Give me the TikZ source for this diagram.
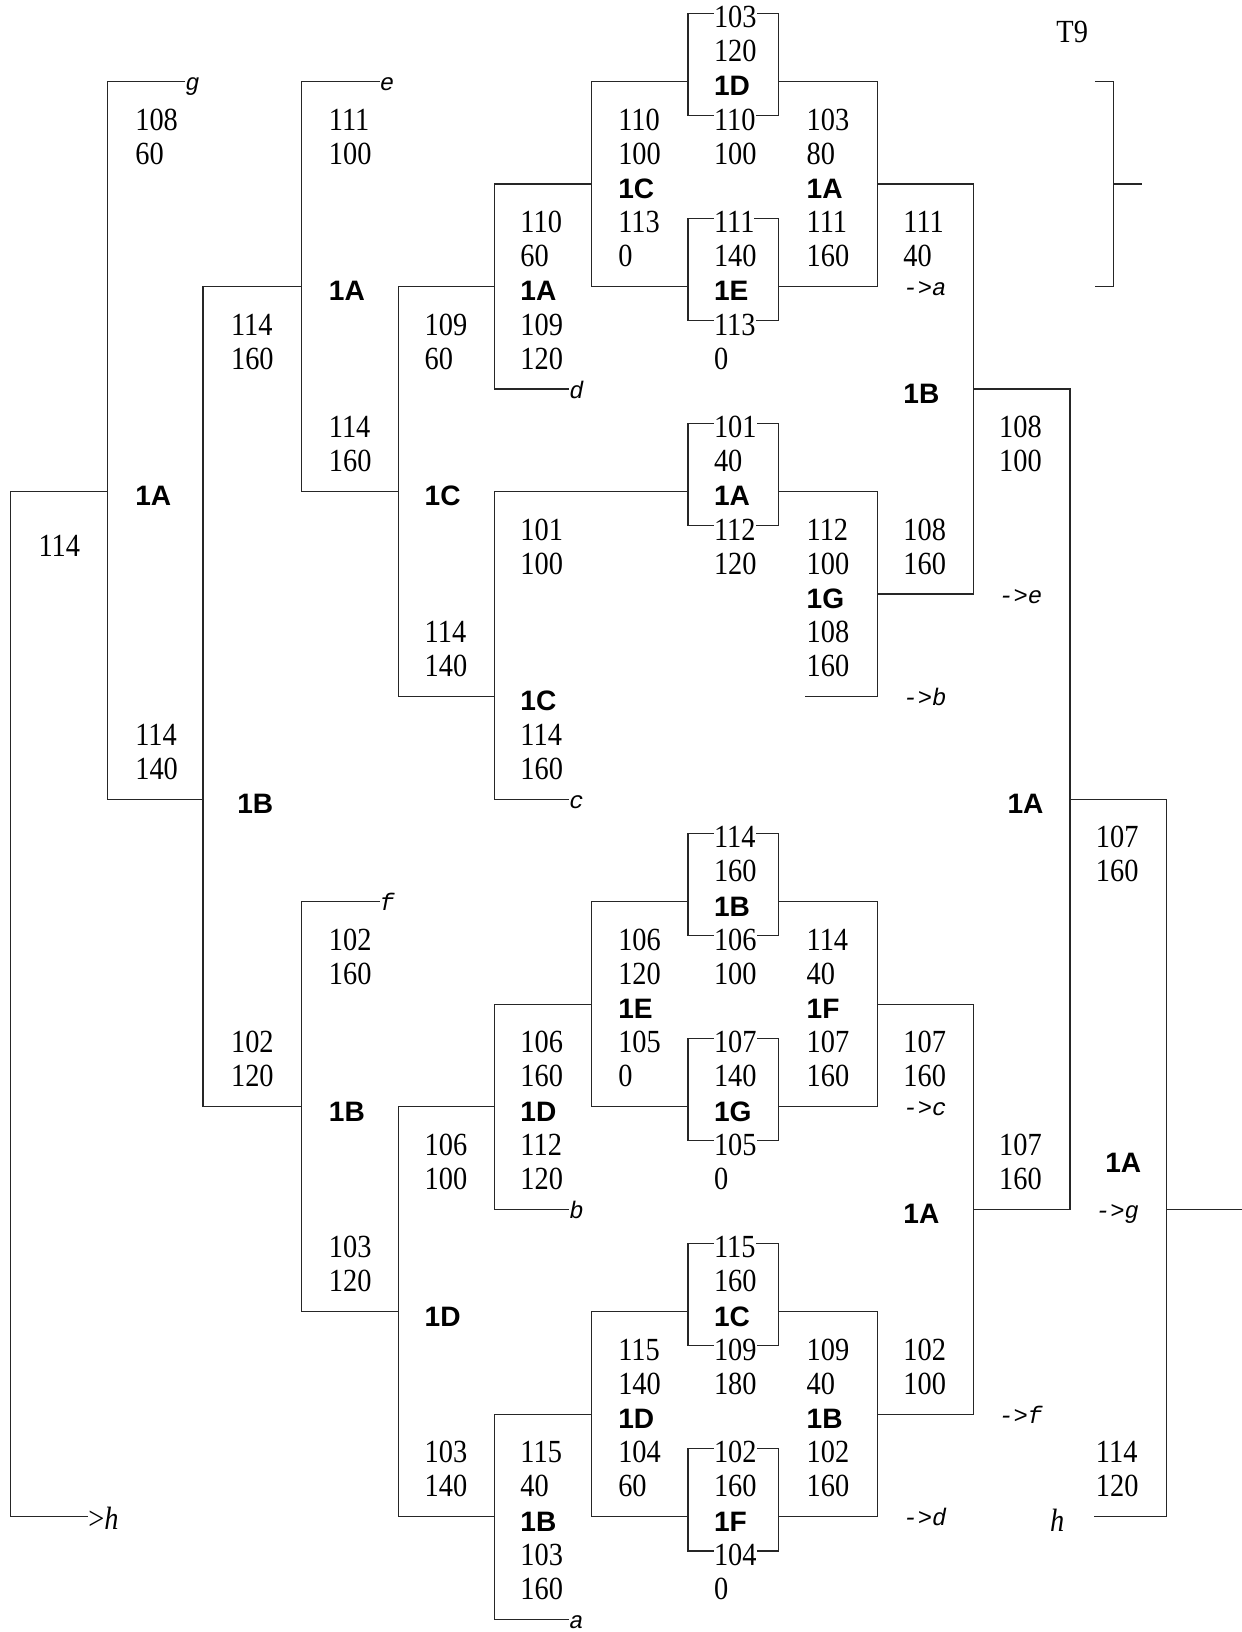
\documentclass[tikz,border=0pt]{standalone}
\usepackage{fontspec}
\setmainfont{Liberation Serif}[FakeStretch=0.88]
\newfontfamily\lsans{Liberation Sans}
\newfontfamily\lmono{Liberation Mono}
\newcommand\B[1]{{\lsans\bfseries\fontsize{27}{27}\selectfont #1}}
\newcommand\M[1]{{\lmono\itshape\fontsize{23}{23}\selectfont #1}}
\newcommand\col[3]{\foreach \itm [count=\i from 0] in {#3} {\node[txt] (n#1r#2l\i) at (#1,{#2+\i+0.42}) {\itm};}}
\newcommand\lab[4]{\node[mtxt] (#1) at (#2,{#3+0.27}) {\M{#4}};}
\begin{document}
\begin{tikzpicture}[x=1pt,y=-32.83pt,
  ln/.style={draw=black!85,line width=1.2pt},
  txt/.style={anchor=base west,inner sep=0pt,outer sep=0pt,fill=white,font=\fontsize{31}{33}\selectfont},
  mtxt/.style={anchor=base west,inner sep=0pt,outer sep=0pt}]
\useasboundingbox[fill=white] (0pt,0pt) rectangle (1193pt,-1568pt);
\begin{scope}[yshift=-12.7pt]
% brackets
\draw[ln] (103,14) -- (10,14) -- (10,44) -- (85,44);
\draw[ln] (178,2) -- (103,2) -- (103,23) -- (195,23);
\draw[ln] (290,8) -- (195,8) -- (195,32) -- (290,32);
\draw[ln] (365,2) -- (290,2) -- (290,14) -- (383,14);
\draw[ln] (365,26) -- (290,26) -- (290,38) -- (383,38);
\draw[ln] (475,8) -- (383,8) -- (383,20) -- (475,20);
\draw[ln] (475,32) -- (383,32) -- (383,44) -- (475,44);
\draw[ln] (568,5) -- (475,5) -- (475,11) -- (547,11);
\draw[ln] (661,14) -- (475,14) -- (475,23) -- (547,23);
\draw[ln] (568,29) -- (475,29) -- (475,35) -- (547,35);
\draw[ln] (568,41) -- (475,41) -- (475,47) -- (547,47);
\draw[ln] (661,2) -- (568,2) -- (568,8) -- (661,8);
\draw[ln] (661,26) -- (568,26) -- (568,32) -- (661,32);
\draw[ln] (661,38) -- (568,38) -- (568,44) -- (661,44);
\foreach \b in {0,6,12,24,30,36,42} \draw[ln] (661,\b) rectangle (748,\b+3);
\draw[ln] (748,2) -- (843,2) -- (843,8) -- (748,8);
\draw[ln] (748,14) -- (843,14) -- (843,20) -- (773,20);
\draw[ln] (748,26) -- (843,26) -- (843,32) -- (748,32);
\draw[ln] (748,38) -- (843,38) -- (843,44) -- (748,44);
\draw[ln] (843,5) -- (935,5) -- (935,17) -- (843,17);
\draw[ln] (843,29) -- (935,29) -- (935,41) -- (843,41);
\draw[ln] (935,11) -- (1028,11) -- (1028,35) -- (935,35);
\draw[ln] (1028,23) -- (1121,23) -- (1121,44) -- (1051,44);
\draw[ln] (1121,35) -- (1193,35);
\draw[ln] (1052,2) -- (1070,2) -- (1070,8) -- (1052,8);
\draw[ln] (1070,5) -- (1097,5);
% texts
\col{130}{3}{108,60}
\col{130}{14}{\B{1A}}
\col{130}{21}{114,140}
\node[txt] (n114) at (37,15.9) {114};
\col{222}{9}{114,160}
\col{228}{23}{\B{1B}}
\col{222}{30}{102,120}
\col{316}{3}{111,100}
\col{316}{8}{\B{1A}}
\col{316}{12}{114,160}
\col{316}{27}{102,160}
\col{316}{32}{\B{1B}}
\col{316}{36}{103,120}
\col{408}{9}{109,60}
\col{408}{14}{\B{1C}}
\col{408}{18}{114,140}
\col{408}{33}{106,100}
\col{408}{38}{\B{1D}}
\col{408}{42}{103,140}
\col{500}{6}{110,60,\B{1A},109,120}
\col{500}{15}{101,100}
\col{500}{20}{\B{1C},114,160}
\col{500}{30}{106,160,\B{1D},112,120}
\col{500}{42}{115,40,\B{1B},103,160}
\col{594}{3}{110,100,\B{1C},113,0}
\col{594}{27}{106,120,\B{1E},105,0}
\col{594}{39}{115,140,\B{1D},104,60}
\col{686}{0}{103,120,\B{1D},110,100}
\col{686}{6}{111,140,\B{1E},113,0}
\col{686}{12}{101,40,\B{1A},112,120}
\col{686}{24}{114,160,\B{1B},106,100}
\col{686}{30}{107,140,\B{1G},105,0}
\col{686}{36}{115,160,\B{1C},109,180}
\col{686}{42}{102,160,\B{1F},104,0}
\col{775}{3}{103,80,\B{1A},111,160}
\col{775}{15}{112,100,\B{1G},108,160}
\col{775}{27}{114,40,\B{1F},107,160}
\col{775}{39}{109,40,\B{1B},102,160}
\col{868}{6}{111,40}
\lab{la}{868}{8}{->a}
\col{868}{11}{\B{1B}}
\col{868}{15}{108,160}
\lab{lb}{868}{20}{->b}
\col{868}{30}{107,160}
\lab{lc}{868}{32}{->c}
\col{868}{35}{\B{1A}}
\col{868}{39}{102,100}
\lab{ld}{868}{44}{->d}
\col{960}{12}{108,100}
\lab{le}{960}{17}{->e}
\col{968}{23}{\B{1A}}
\col{960}{33}{107,160}
\lab{lf}{960}{41}{->f}
\col{1053}{24}{107,160}
\node[txt] (fin1A) at (1062,33.92) {\B{1A}};
\lab{lg}{1053}{35}{->g}
\col{1053}{42}{114,120}
\lab{eg}{178}{2}{g}
\lab{ee}{365}{2}{e}
\lab{ef}{365}{26}{f}
\lab{ed}{547}{11}{d}
\lab{ec}{547}{23}{c}
\lab{eb}{547}{35}{b}
\lab{ea}{547}{47}{a}
\node[txt] (hl) at (85,44.37) {>\textit{h}};
\node[txt] (hr) at (1009,44.42) {\textit{h}};
\node[txt] (t9) at (1015,0.86) {T9};
\end{scope}
\end{tikzpicture}
\end{document}
